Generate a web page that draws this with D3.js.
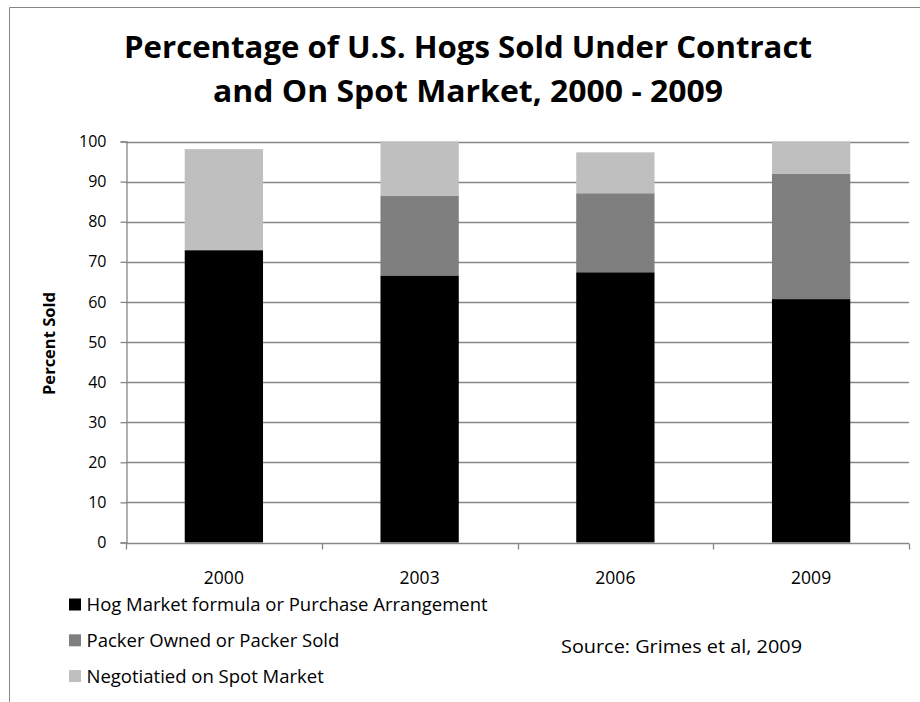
<!DOCTYPE html>
<html>
<head>
<meta charset="utf-8">
<script src="https://cdn.jsdelivr.net/npm/d3@7"></script>
<style>
  html, body { margin: 0; padding: 0; background: #fff; }
  svg { display: block; }
  text { font-family: "Open Sans", Lato, sans-serif; fill: #000; }
</style>
</head>
<body>
<svg id="chart" width="920" height="702"></svg>
<script>
// Survey years on the category axis
const years = ["2000", "2003", "2006", "2009"];
// Share of hogs sold (percent) by marketing arrangement
const formulaPurchase = [72.9, 66.6, 67.4, 60.7];
const packerOwned     = [0,    19.8, 19.7, 31.2];
const spotMarket      = [25.2, 13.6, 10.2, 8.1];
const seriesNames = [
  "Hog Market formula or Purchase Arrangement",
  "Packer Owned or Packer Sold",
  "Negotiatied on Spot Market"
];
const yTicks = [0, 10, 20, 30, 40, 50, 60, 70, 80, 90, 100];
const titleLines = [
  "Percentage of U.S. Hogs Sold Under Contract",
  "and On Spot Market, 2000 - 2009"
];
const sourceNote = "Source: Grimes et al, 2009";

const colors = ["#000000", "#7f7f7f", "#bfbfbf"];
const gridColor = "#868686";

const svg = d3.select("#chart");

// Outer chart-area frame (left and top edges)
svg.append("path")
  .attr("d", "M9.5,702 V7.5 H920")
  .attr("fill", "none")
  .attr("stroke", gridColor)
  .attr("stroke-width", 1);

const margin = { left: 126, right: 11, top: 141.5, bottom: 159.5 };
const W = 920, H = 702;

const x = d3.scaleBand().domain(years)
  .range([margin.left, W - margin.right])
  .paddingInner(0.6).paddingOuter(0.3);
const xOuter = d3.scaleBand().domain(years).range([margin.left, W - margin.right]);
const y = d3.scaleLinear().domain([0, 100]).range([H - margin.bottom, margin.top]);

// Horizontal gridlines
svg.append("g")
  .selectAll("line")
  .data(yTicks.filter(d => d > 0))
  .join("line")
  .attr("x1", margin.left).attr("x2", W - margin.right)
  .attr("y1", d => Math.round(y(d)) + 0.5).attr("y2", d => Math.round(y(d)) + 0.5)
  .attr("stroke", gridColor).attr("stroke-width", 1.3);

// Stacked bars
const rows = years.map((yr, i) => ({
  year: yr, s0: formulaPurchase[i], s1: packerOwned[i], s2: spotMarket[i]
}));
const stack = d3.stack().keys(["s0", "s1", "s2"])(rows);

svg.append("g")
  .selectAll("g")
  .data(stack)
  .join("g")
  .attr("fill", (d, i) => colors[i])
  .selectAll("rect")
  .data(d => d.filter(p => p[1] - p[0] > 0))
  .join("rect")
  .attr("x", d => x(d.data.year))
  .attr("width", x.bandwidth())
  .attr("y", d => y(d[1]))
  .attr("height", d => y(d[0]) - y(d[1]));

// Y axis
const yAxis = svg.append("g")
  .attr("transform", `translate(${margin.left + 0.5},0)`)
  .call(d3.axisLeft(y).tickValues(yTicks).tickSize(6).tickPadding(14));
yAxis.selectAll("path, line").attr("stroke", gridColor).attr("stroke-width", 1.3);
yAxis.selectAll("text")
  .attr("font-size", 16)
  .style("font-family", "'Open Sans', sans-serif")
  .attr("fill", "#000");

// X axis with tick marks at category boundaries
const xAxisY = Math.round(y(0)) + 0.5;
svg.append("line")
  .attr("x1", margin.left).attr("x2", W - margin.right)
  .attr("y1", xAxisY).attr("y2", xAxisY)
  .attr("stroke", gridColor).attr("stroke-width", 1.3);
const boundaries = years.map(d => xOuter(d)).concat([xOuter(years[years.length - 1]) + xOuter.bandwidth()]);
svg.append("g").selectAll("line")
  .data(boundaries)
  .join("line")
  .attr("x1", d => Math.round(d) + 0.5).attr("x2", d => Math.round(d) + 0.5)
  .attr("y1", xAxisY).attr("y2", xAxisY + 6)
  .attr("stroke", gridColor).attr("stroke-width", 1.3);
svg.append("g").selectAll("text")
  .data(years)
  .join("text")
  .attr("x", d => x(d) + x.bandwidth() / 2)
  .attr("y", 584)
  .attr("text-anchor", "middle")
  .attr("font-size", 17.5)
  .text(d => d);

// Y axis title
svg.append("text")
  .attr("transform", "translate(55,343.5) rotate(-90)")
  .attr("text-anchor", "middle")
  .attr("font-size", 15.5)
  .attr("font-weight", "bold")
  .attr("textLength", 103)
  .attr("lengthAdjust", "spacingAndGlyphs")
  .text("Percent Sold");

// Chart title
const titleWidths = [688, 510];
svg.append("g").selectAll("text")
  .data(titleLines)
  .join("text")
  .attr("x", 468)
  .attr("y", (d, i) => 58 + i * 44)
  .attr("text-anchor", "middle")
  .attr("font-size", 30)
  .attr("font-weight", "bold")
  .attr("textLength", (d, i) => titleWidths[i])
  .attr("lengthAdjust", "spacingAndGlyphs")
  .text(d => d);

// Legend
const legend = svg.append("g").selectAll("g")
  .data(seriesNames)
  .join("g")
  .attr("transform", (d, i) => `translate(69,${604.5 + i * 35.8})`);
legend.append("rect")
  .attr("x", 0).attr("y", -6).attr("width", 12).attr("height", 12)
  .attr("fill", (d, i) => colors[i]);
legend.append("text")
  .attr("x", 17.5).attr("y", 0).attr("dy", "0.36em")
  .attr("font-size", 18.5)
  .text(d => d);

// Source note
svg.append("text")
  .attr("x", 561).attr("y", 647).attr("dy", "0.36em")
  .attr("font-size", 18)
  .attr("textLength", 241)
  .attr("lengthAdjust", "spacingAndGlyphs")
  .text(sourceNote);
</script>
</body>
</html>
